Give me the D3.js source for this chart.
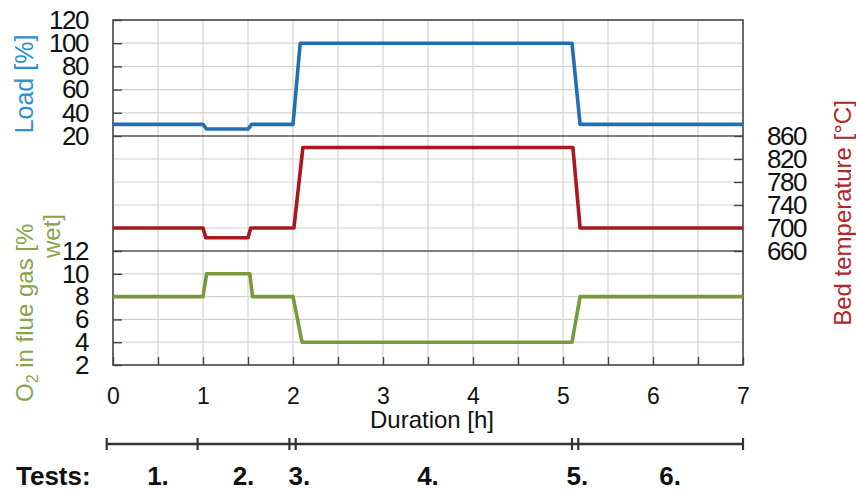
<!DOCTYPE html>
<html>
<head>
<meta charset="utf-8">
<script src="https://cdnjs.cloudflare.com/ajax/libs/d3/7.8.5/d3.min.js"></script>
<style>
  body { margin: 0; background: #fff; }
  svg text { font-family: "Liberation Sans", Arial, sans-serif; }
</style>
</head>
<body>
<div id="chart"></div>
<script>
// step curves (time in h)
var loadTime = [0, 1.0, 1.04, 1.5, 1.54, 2.0, 2.08, 5.1, 5.19, 7];
var loadVal  = [30, 30, 26, 26, 30, 30, 100, 100, 30, 30];
var tempTime = [0, 1.0, 1.03, 1.5, 1.53, 2.01, 2.11, 5.11, 5.19, 7];
var tempVal  = [700, 700, 683, 683, 700, 700, 840, 840, 700, 700];
var o2Time   = [0, 1.0, 1.04, 1.52, 1.55, 2.0, 2.1, 5.1, 5.19, 7];
var o2Val    = [8, 8, 10, 10, 8, 8, 4, 4, 8, 8];

var xTicks    = [0, 1, 2, 3, 4, 5, 6, 7];
var loadTicks = [20, 40, 60, 80, 100, 120];
var tempTicks = [660, 700, 740, 780, 820, 860];
var o2Ticks   = [2, 4, 6, 8, 10, 12];

// test periods
var testBounds = [-0.07, 0.94, 1.96, 2.03, 5.1, 5.17, 7];
var testNames  = ["1.", "2.", "3.", "4.", "5.", "6."];
var testPos    = [0.5, 1.45, 2.07, 3.5, 5.16, 6.19];

(function () {
var W = 856, H = 492;
var pLeft = 113, pRight = 743, pTop = 20, sep1 = 136, sep2 = 251, pBottom = 365;

var svg = d3.select("#chart").append("svg").attr("width", W).attr("height", H);

var x = d3.scaleLinear().domain([0, 7]).range([pLeft, pRight]);
var yLoad = d3.scaleLinear().domain([20, 120]).range([sep1, pTop]);
var yTemp = d3.scaleLinear().domain([660, 860]).range([sep2, sep1]);
var yO2 = d3.scaleLinear().domain([2, 12]).range([pBottom, sep2]);

var cLoad = "#1f6fb2", cTemp = "#a8181e", cO2 = "#7a9a3a";

// grid
var grid = svg.append("g");
grid.selectAll("line.v")
    .data(d3.range(0.5, 7, 0.5))
    .enter().append("line")
    .attr("x1", d => x(d)).attr("x2", d => x(d))
    .attr("y1", pTop).attr("y2", pBottom)
    .attr("stroke", "#d2d2d2").attr("stroke-width", 1.2);
var hy = [].concat(loadTicks.slice(1, -1).map(yLoad), tempTicks.slice(1, -1).map(yTemp), o2Ticks.slice(1, -1).map(yO2));
grid.selectAll("line.h")
    .data(hy)
    .enter().append("line")
    .attr("x1", pLeft).attr("x2", pRight)
    .attr("y1", d => d).attr("y2", d => d)
    .attr("stroke", "#d2d2d2").attr("stroke-width", 1.2);

// panel separators + frame
[sep1, sep2].forEach(function (y) {
    svg.append("line").attr("x1", pLeft).attr("x2", pRight).attr("y1", y).attr("y2", y)
        .attr("stroke", "#555").attr("stroke-width", 1.6);
});
svg.append("rect").attr("x", pLeft).attr("y", pTop).attr("width", pRight - pLeft).attr("height", pBottom - pTop)
    .attr("fill", "none").attr("stroke", "#444").attr("stroke-width", 1.6);

// axes
function styleAxis(g, size) {
    g.select(".domain").remove();
    g.selectAll(".tick line").attr("stroke", "#444").attr("stroke-width", 1.4);
    g.selectAll(".tick text").attr("font-size", size).attr("fill", "#111")
        .style("font-family", "'Liberation Sans', Arial, sans-serif");
}
var axL1 = svg.append("g").attr("transform", `translate(${pLeft},0)`)
    .call(d3.axisLeft(yLoad).tickValues(loadTicks).tickSize(-9).tickPadding(25));
styleAxis(axL1, 26);
var axL2 = svg.append("g").attr("transform", `translate(${pLeft},0)`)
    .call(d3.axisLeft(yO2).tickValues(o2Ticks).tickSize(-9).tickPadding(25));
styleAxis(axL2, 26);
var axR = svg.append("g").attr("transform", `translate(${pRight},0)`)
    .call(d3.axisRight(yTemp).tickValues(tempTicks).tickSize(-9).tickPadding(24));
styleAxis(axR, 26);
svg.selectAll(".tick text").attr("letter-spacing", -1.5);
var axB = svg.append("g").attr("transform", `translate(0,${pBottom})`)
    .call(d3.axisBottom(x).tickValues(d3.range(0, 7.01, 0.5)).tickSize(-8).tickPadding(23)
        .tickFormat(d => Number.isInteger(d) ? d : ""));
styleAxis(axB, 23);

// curves
var line = d3.line().x(d => x(d[0])).y(d => d[1]);
function addCurve(times, vals, scale, color) {
    var pts = times.map((t, i) => [t, scale(vals[i])]);
    svg.append("path").datum(pts)
        .attr("d", line)
        .attr("fill", "none")
        .attr("stroke", color)
        .attr("stroke-width", 3.6)
        .attr("stroke-linejoin", "round");
}
addCurve(loadTime, loadVal, yLoad, cLoad);
addCurve(tempTime, tempVal, yTemp, cTemp);
addCurve(o2Time, o2Val, yO2, cO2);

// axis titles
svg.append("text").attr("transform", "translate(33,84) rotate(-90)")
    .attr("text-anchor", "middle").attr("font-size", 25).attr("fill", "#2e8fd0").text("Load [%]");

var o2t = svg.append("text").attr("transform", "translate(33,402) rotate(-90)")
    .attr("font-size", 24).attr("fill", "#8aa34b");
o2t.append("tspan").text("O");
o2t.append("tspan").attr("font-size", 16).attr("dy", 5).text("2");
o2t.append("tspan").attr("dy", -5).text(" in flue gas [%");
svg.append("text").attr("transform", "translate(60,258) rotate(-90)")
    .attr("font-size", 24).attr("fill", "#8aa34b").text("wet]");

svg.append("text").attr("transform", "translate(851,213) rotate(-90)")
    .attr("text-anchor", "middle").attr("font-size", 24).attr("fill", "#b0262b").text("Bed temperature [°C]");

svg.append("text").attr("x", 432).attr("y", 428)
    .attr("text-anchor", "middle").attr("font-size", 24).attr("fill", "#111").text("Duration [h]");

// tests bar
var ty = 444;
svg.append("line").attr("x1", x(testBounds[0])).attr("x2", x(testBounds[testBounds.length - 1]))
    .attr("y1", ty).attr("y2", ty).attr("stroke", "#333").attr("stroke-width", 2.4);
svg.selectAll("line.tb")
    .data(testBounds)
    .enter().append("line")
    .attr("x1", d => x(d)).attr("x2", d => x(d))
    .attr("y1", ty - 6).attr("y2", ty + 6)
    .attr("stroke", "#333").attr("stroke-width", 2.2);
svg.append("text").attr("x", 16).attr("y", 485)
    .attr("font-size", 26).attr("font-weight", "bold").attr("fill", "#111").text("Tests:");
svg.selectAll("text.tn")
    .data(testNames)
    .enter().append("text")
    .attr("x", (d, i) => x(testPos[i]))
    .attr("y", 485)
    .attr("text-anchor", "middle")
    .attr("font-size", 26).attr("font-weight", "bold").attr("fill", "#111")
    .text(d => d);
})();
</script>
</body>
</html>
